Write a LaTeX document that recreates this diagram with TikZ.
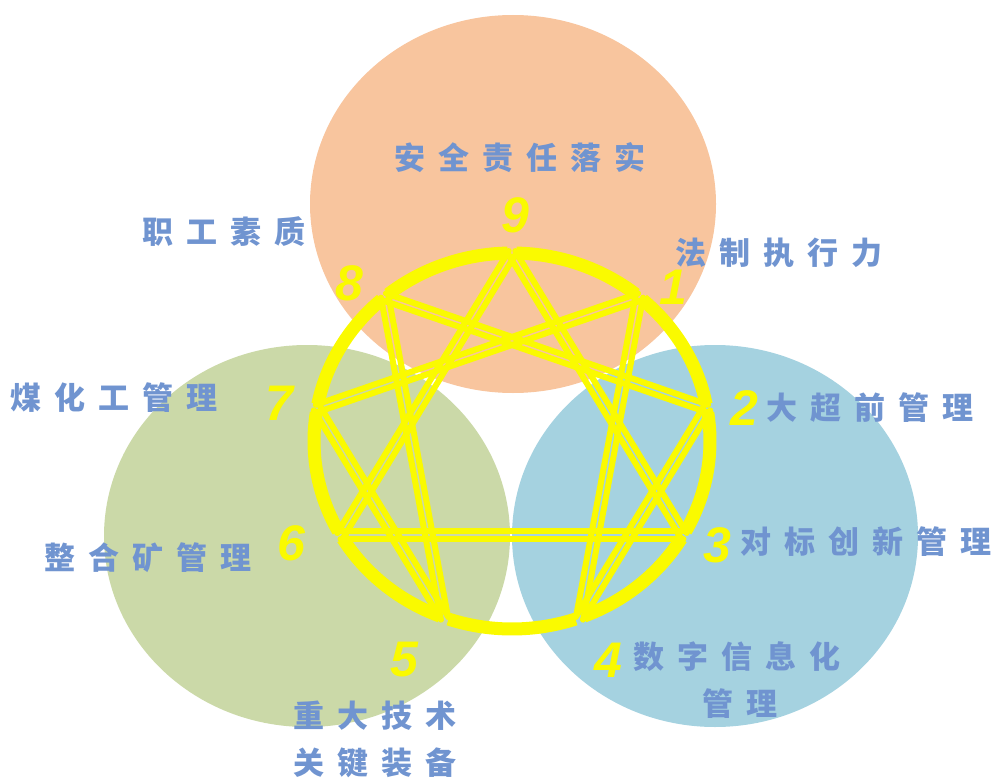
\documentclass[tikz,border=0pt]{standalone}
\usepackage{fontspec}
\usetikzlibrary{calc}
\newfontfamily\cjk{Noto Sans CJK SC}
\newfontfamily\numfont{Liberation Sans}
\definecolor{orangefill}{RGB}{248,197,158}
\definecolor{greenfill}{RGB}{203,217,168}
\definecolor{bluefill}{RGB}{165,210,224}
\definecolor{enyellow}{RGB}{250,250,0}
\definecolor{lblblue}{RGB}{112,148,208}
\newcommand\cg{\hspace{13pt}}
\newcommand\enline[2]{%
  \draw[strand] ($(#1)!3.8pt!90:(#2)$) -- ($(#2)!3.8pt!-90:(#1)$);
  \draw[strand] ($(#1)!3.8pt!-90:(#2)$) -- ($(#2)!3.8pt!90:(#1)$);}
\begin{document}
\begin{tikzpicture}[x=1pt,y=1pt,
  lbl/.style={text=lblblue, font=\cjk\bfseries\fontsize{31}{47}\selectfont, inner sep=0pt, align=center},
  num/.style={text=enyellow, font=\numfont\bfseries\itshape\fontsize{50}{50}\selectfont, inner sep=0pt},
  ring/.style={draw=enyellow, line width=13pt, line cap=butt},
  strand/.style={draw=enyellow, line width=6pt, line cap=round}]
\useasboundingbox (0,0) rectangle (995,-778);
% background circles
\fill[greenfill] (307,-536) ellipse [x radius=203pt, y radius=191pt];
\fill[bluefill] (715,-536) ellipse [x radius=203pt, y radius=191pt];
\fill[orangefill] (513,-204) ellipse [x radius=203pt, y radius=189pt];
% enneagram points
\coordinate (c) at (512,-441);
\foreach \k/\a in {9/90,1/50,2/10,3/-30,4/-70,5/-110,6/-150,7/-190,8/-230}
  \coordinate (n\k) at ($(c)+(\a:198pt and 188pt)$);
% ring as arcs with gaps at the points
\foreach \a in {90,50,10,-30,-70,-110,-150,-190,-230}
  \draw[ring] ($(c)+({\a-40+1.3}:198pt and 188pt)$)
     arc [start angle={\a-40+1.3}, end angle={\a-1.3}, x radius=198pt, y radius=188pt];
% triangle
\enline{n9}{n3}
\enline{n3}{n6}
\enline{n6}{n9}
% hexad
\enline{n1}{n4}
\enline{n4}{n2}
\enline{n2}{n8}
\enline{n8}{n5}
\enline{n5}{n7}
\enline{n7}{n1}
% numbers
\node[num] (d9) at (515,-215) {9};
\node[num] (d8) at (349,-283) {8};
\node[num] (d1) at (673,-287) {1};
\node[num] (d7) at (279,-403) {7};
\node[num] (d2) at (744,-408) {2};
\node[num] (d6) at (291,-543) {6};
\node[num] (d3) at (717,-545) {3};
\node[num] (d4) at (608,-660) {4};
\node[num] (d5) at (404,-660) {5};
% labels
\node[lbl] (t9) at (520,-158) {安\cg 全\cg 责\cg 任\cg 落\cg 实};
\node[lbl] (t8) at (224,-232) {职\cg 工\cg 素\cg 质};
\node[lbl] (t1) at (779,-253) {法\cg 制\cg 执\cg 行\cg 力};
\node[lbl] (t7) at (114,-398) {煤\cg 化\cg 工\cg 管\cg 理};
\node[lbl] (t2) at (870,-408) {大\cg 超\cg 前\cg 管\cg 理};
\node[lbl] (t6) at (148,-558) {整\cg 合\cg 矿\cg 管\cg 理};
\node[lbl] (t3) at (866,-542) {对\cg 标\cg 创\cg 新\cg 管\cg 理};
\node[lbl] (t4) at (737,-680) {数\cg 字\cg 信\cg 息\cg 化\\\hspace*{6pt}管\cg 理};
\node[lbl] (t5) at (375,-739) {重\cg 大\cg 技\cg 术\\关\cg 键\cg 装\cg 备};
\end{tikzpicture}
\end{document}
